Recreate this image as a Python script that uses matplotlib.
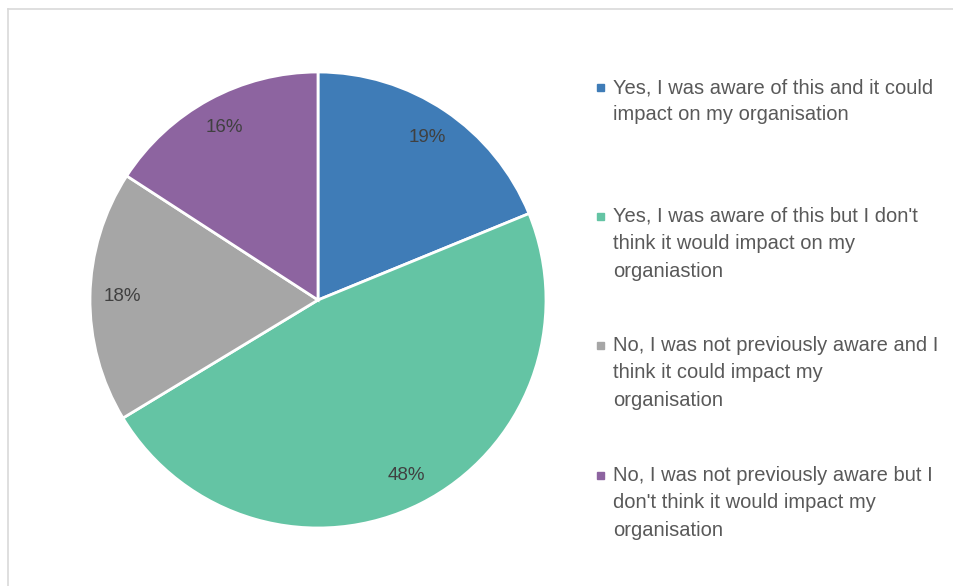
import matplotlib
matplotlib.use("Agg")
import matplotlib.pyplot as plt
from matplotlib.patches import Rectangle
from matplotlib.lines import Line2D

# Survey responses
categories = [
    "Yes, I was aware of this and it could\nimpact on my organisation",
    "Yes, I was aware of this but I don't\nthink it would impact on my\norganiastion",
    "No, I was not previously aware and I\nthink it could impact my\norganisation",
    "No, I was not previously aware but I\ndon't think it would impact my\norganisation",
]
shares = [19, 48, 18, 16]
colors = ["#3F7CB7", "#64C4A4", "#A6A6A6", "#8D64A0"]

W, H = 954, 586
fig = plt.figure(figsize=(W / 100, H / 100), dpi=100)
fig.patch.set_facecolor("white")

# chart-area outline (top and left edges)
fig.add_artist(Line2D([8 / W, 1], [1 - 9 / H, 1 - 9 / H], color="#D9D9D9", lw=1.2))
fig.add_artist(Line2D([8 / W, 8 / W], [0, 1 - 9 / H], color="#D9D9D9", lw=1.2))

cx, cy, r = 318, 300, 228
ax = fig.add_axes([(cx - r) / W, (H - cy - r) / H, 2 * r / W, 2 * r / H])
wedges, texts, autotexts = ax.pie(
    shares,
    colors=colors,
    startangle=90,
    counterclock=False,
    radius=1,
    autopct=lambda p: f"{p * sum(shares) / 100:.0f}%",
    pctdistance=0.86,
    wedgeprops=dict(edgecolor="white", linewidth=2),
    textprops=dict(color="#404040", fontsize=13.5, family="Liberation Sans"),
)
ax.set_xlim(-1, 1)
ax.set_ylim(-1, 1)
ax.set_aspect("equal")
ax.axis("off")

# legend: colored square markers and wrapped labels
tops = [87, 216, 345, 475]
for label, color, top in zip(categories, colors, tops):
    fig.add_artist(Rectangle((597 / W, 1 - (top + 4) / H), 7 / W, 7 / H,
                             color=color, transform=fig.transFigure))
    fig.text(613 / W, 1 - (top - 9) / H, label, ha="left", va="top",
             color="#595959", fontsize=14.5, family="Liberation Sans",
             linespacing=1.56)

fig.savefig("out.png", dpi=100)
